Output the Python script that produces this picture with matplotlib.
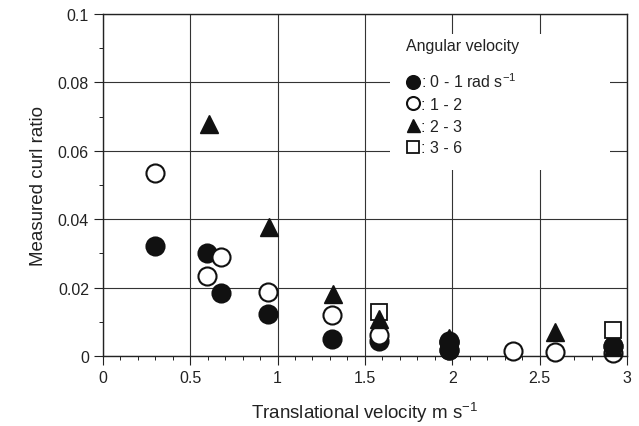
import matplotlib
matplotlib.use("Agg")
import matplotlib.pyplot as plt
from matplotlib.patches import Rectangle
from matplotlib.ticker import MultipleLocator

plt.rcParams['font.family'] = ['Liberation Sans', 'DejaVu Sans']

# 0 - 1 rad/s (filled circles)
x_a = [0.30, 0.595, 0.675, 0.945, 1.31, 1.58, 1.98, 1.98, 2.92]
y_a = [0.0322, 0.0301, 0.0184, 0.0123, 0.0050, 0.0044, 0.0040, 0.0018, 0.0030]
# 1 - 2 (open circles)
x_b = [0.30, 0.595, 0.675, 0.945, 1.31, 1.58, 1.98, 2.35, 2.59, 2.92]
y_b = [0.0535, 0.0234, 0.0290, 0.0188, 0.0120, 0.0061, 0.0045, 0.0014, 0.0012, 0.0008]
# 2 - 3 (triangles)
x_c = [0.605, 0.95, 1.32, 1.58, 1.98, 2.59, 2.92]
y_c = [0.0678, 0.0377, 0.0180, 0.0108, 0.0052, 0.0070, 0.0025]
# 3 - 6 (open squares)
x_d = [1.58, 2.92]
y_d = [0.0129, 0.0075]

xticks = [0, 0.5, 1, 1.5, 2, 2.5, 3]
xlabels = ['0', '0.5', '1', '1.5', '2', '2.5', '3']
yticks = [0, 0.02, 0.04, 0.06, 0.08, 0.1]
ylabels = ['0', '0.02', '0.04', '0.06', '0.08', '0.1']

fig = plt.figure(figsize=(6.39, 4.27), dpi=100)
ax = fig.add_axes([0.161, 0.164, 0.82, 0.801])

ax.set_xlim(0, 3)
ax.set_ylim(0, 0.1)
ax.set_xticks(xticks)
ax.set_xticklabels(xlabels)
ax.set_yticks(yticks)
ax.set_yticklabels(ylabels)
ax.xaxis.set_minor_locator(MultipleLocator(0.1))
ax.yaxis.set_minor_locator(MultipleLocator(0.01))
ax.tick_params(which='major', direction='out', length=6.5, width=0.8, labelsize=11.5, colors='#222')
ax.tick_params(which='minor', direction='out', length=3, width=0.7, colors='#222')
ax.grid(True, which='major', color='#333', linewidth=0.8, zorder=0.5)
ax.set_axisbelow(True)
for s in ax.spines.values():
    s.set_linewidth(1.0)
    s.set_color('#222')

# white block behind the legend, breaking the grid lines
ax.add_patch(Rectangle((0.548, 0.544), 0.42, 0.398, transform=ax.transAxes,
                       facecolor='white', edgecolor='none', zorder=1))

ms = 13
ax.plot(x_a, y_a, 'o', ms=ms, mfc='#111', mec='#111', mew=1.5, ls='none',
        label=': 0 - 1 rad s$^{\\mathregular{-1}}$', zorder=3, clip_on=False)
ax.plot(x_b, y_b, 'o', ms=ms, mfc='white', mec='#111', mew=1.5, ls='none',
        label=': 1 - 2', zorder=4, clip_on=False)
ax.plot(x_c, y_c, '^', ms=ms, mfc='#111', mec='#111', mew=1, ls='none',
        label=': 2 - 3', zorder=5, clip_on=False)
ax.plot(x_d, y_d, 's', ms=12, mfc='white', mec='#111', mew=1.3, ls='none',
        label=': 3 - 6', zorder=4.8, clip_on=False)
# at the high-speed end the filled circles sit on top of the open ones
hi = [i for i, x in enumerate(x_a) if x > 1.9]
ax.plot([x_a[i] for i in hi], [y_a[i] for i in hi], 'o', ms=ms, mfc='#111', mec='#111',
        mew=1.5, ls='none', zorder=4.5, clip_on=False)

leg = ax.legend(loc='upper left', bbox_to_anchor=(0.545, 0.98), frameon=False,
                title='Angular velocity', fontsize=11.5, title_fontsize=11.5,
                handletextpad=0.05, handlelength=0.9, labelspacing=0.42,
                markerscale=0.72, borderpad=0.6, alignment='left')
leg.get_title().set_color('#222')
leg.set_zorder(10)
for t in leg.get_texts():
    t.set_color('#222')
leg._legend_box.sep = 13

ax.set_xlabel('Translational velocity m s$^{\\mathregular{-1}}$', fontsize=13.5, color='#222', labelpad=10)
ax.set_ylabel('Measured curl ratio', fontsize=13.5, color='#222', labelpad=8)

fig.savefig('out.png', dpi=100)
